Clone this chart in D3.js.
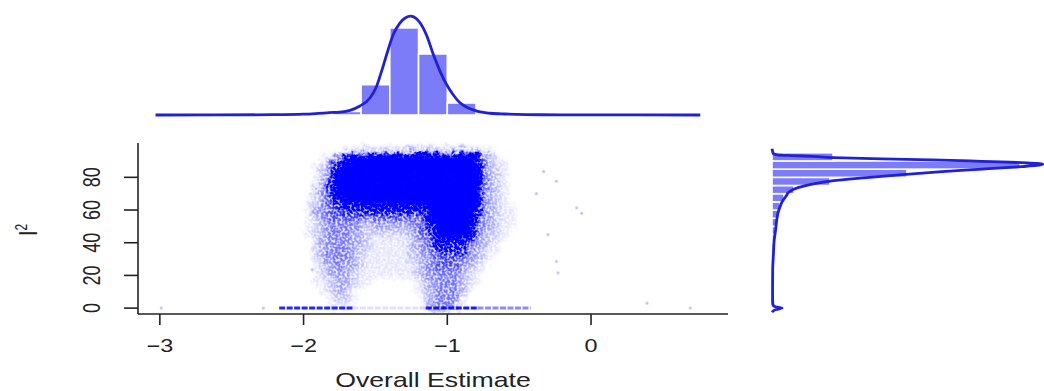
<!DOCTYPE html>
<html><head><meta charset="utf-8">
<script src="https://cdn.jsdelivr.net/npm/d3@7"></script>
<style>body{margin:0;background:#fff;} svg{display:block;font-family:"Liberation Sans",Arial,sans-serif;}</style>
</head><body><svg id="c" width="1044" height="391"></svg>
<script>
// ---------------- data ----------------
const xTicks = [-3, -2, -1, 0];
const yTicks = [0, 20, 40, 60, 80];
const xLabel = "Overall Estimate";

// top marginal histogram of overall estimate: [from, to, density]
const topBins = [[-1.8,-1.6,0.09],[-1.6,-1.4,0.773],[-1.4,-1.2,2.22],[-1.2,-1.0,1.556],[-1.0,-0.8,0.306],[-0.8,-0.6,0.02]];
// top density curve: [estimate, density]
const topDensity = [[-3.03,0],[-2.6,0.002],[-2.2,0.008],[-2.0,0.02],[-1.9,0.04],[-1.82,0.06],[-1.747,0.075],[-1.677,0.12],[-1.608,0.23],[-1.538,0.434],[-1.491,0.74],[-1.457,1.12],[-1.422,1.54],[-1.376,2.05],[-1.329,2.35],[-1.29,2.48],[-1.255,2.52],[-1.22,2.47],[-1.19,2.35],[-1.143,2.02],[-1.097,1.54],[-1.051,1.12],[-1.004,0.77],[-0.958,0.51],[-0.912,0.31],[-0.865,0.2],[-0.819,0.13],[-0.772,0.077],[-0.7,0.045],[-0.6,0.025],[-0.45,0.01],[-0.2,0.004],[0.3,0.001],[0.76,0]];

// right marginal histogram of I2: [from, to, density]
const rightBins = [[0,5,0.0011],[5,10,0.0004],[10,15,0.0004],[15,20,0.0004],[20,25,0.0005],[25,30,0.0005],[30,35,0.0007],[35,40,0.0009],[40,45,0.0011],[45,50,0.0013],[50,55,0.0016],[55,60,0.0021],[60,65,0.0029],[65,70,0.0043],[70,75,0.0079],[75,80,0.0207],[80,85,0.0482],[85,90,0.0886],[90,95,0.0218]];
// right density curve: [I2, density]
const rightDensity = [[-2.5,0],[-1,0.0012],[0,0.0036],[0.8,0.0012],[2,0.0003],[4,0.0002],[10,0.0002],[23.5,0.00025],[33,0.0005],[41.8,0.0008],[48,0.0013],[54.1,0.0017],[58,0.0021],[62.2,0.0029],[65,0.0036],[68.4,0.005],[71.1,0.0061],[73.7,0.0093],[75.8,0.0143],[77.8,0.0214],[79.8,0.0339],[81.8,0.0475],[83.5,0.0607],[85,0.075],[86.6,0.0893],[87.3,0.0946],[88,0.0968],[89,0.0893],[89.8,0.075],[90.7,0.0571],[91.3,0.0393],[92.1,0.0218],[92.8,0.0143],[93.3,0.0071],[93.8,0.0018],[94.5,0.0005],[96,0.0002],[97.5,0]];

// scatter point density, 0 (none) .. 9 (solid)
// columns: 36 estimate bins of 0.05 starting at -2.2; rows: I2 bins of 5, top row = 95-100
const gridXStart = -2.2, gridXStep = 0.05, gridI2Step = 5;
const gridRows = [
  "000000000" + "11" + "22222222222222222" + "11" + "000000",
  "000000" + "1258" + "999999999999999999" + "531" + "00000",
  "00000" + "1258" + "9999999999999999999" + "5321" + "0000",
  "00000" + "136" + "99999999999999999999" + "5321" + "0000",
  "00000" + "136" + "99999999999999999999" + "5321" + "0000",
  "00000" + "247" + "99999999999999999999" + "5321" + "0000",
  "0000" + "12468" + "9999" + "9999999" + "99999999" + "4321" + "0000",
  "0000" + "13456" + "77888888888" + "8" + "9999999" + "43211" + "000",
  "0000" + "134555555" + "55555" + "55" + "6" + "999999" + "8" + "43211" + "000",
  "0000" + "123444432" + "33333" + "34" + "5" + "8" + "99999" + "6" + "43211" + "000",
  "0000" + "123444332" + "22222" + "34" + "5" + "7" + "99999" + "5" + "32210" + "000",
  "00000" + "23444332" + "11111" + "23" + "4" + "6" + "8888" + "6" + "4" + "321" + "00000",
  "00000" + "23444322" + "11111" + "23" + "4" + "5" + "7777" + "5" + "3" + "211" + "00000",
  "00000" + "23444321" + "11111" + "22" + "3" + "4" + "5555" + "4" + "3" + "210" + "00000",
  "00000" + "12343321" + "11111" + "12" + "3" + "4" + "5554" + "3" + "2" + "100" + "00000",
  "00000" + "12333211" + "11111" + "12" + "3" + "4" + "4443" + "2" + "1" + "000" + "00000",
  "00000" + "11233211" + "00000" + "01" + "2" + "3" + "4443" + "2" + "1" + "000" + "00000",
  "00000" + "01232100" + "00000" + "01" + "2" + "3" + "4443" + "1" + "0" + "000" + "00000",
  "00000" + "00122100" + "00000" + "00" + "2" + "3" + "4441" + "0" + "0" + "000" + "00000",
  "00000" + "00111000" + "00000" + "00" + "1" + "3" + "4441" + "0" + "0" + "000" + "00000"
];
// points lying exactly at I2 = 0: [from, to, density level 0..1]
const zeroSegs = [[-2.17,-1.66,0.85],[-1.66,-1.15,0.12],[-1.15,-0.79,0.9],[-0.79,-0.42,0.45]];
// isolated points [estimate, I2]
const outliers = [[-2.99,0],[-2.28,0],[-1.94,23.5],[-0.33,83.5],[-0.24,77.6],[-0.1,61.4],[-0.065,58],[-0.24,28.5],[-0.23,21.6],[0.39,3],[0.69,0],[-0.38,70],[-0.3,45]];

// ---------------- drawing ----------------
const svg = d3.select("#c");
const blue = "#0000ff", lineBlue = "#2020d8", barBlue = "#7c7cf8", ink = "#222";

const x = d3.scaleLinear().domain([-3.152, 0.953]).range([138, 728]);
const y = d3.scaleLinear().domain([-3.6, 101]).range([314, 143]);
const topY = d3.scaleLinear().domain([0, 2.6]).range([115, 13]);
const rightX = d3.scaleLinear().domain([0, 0.1]).range([772, 1052]);
const levelOpacity = [0, 0.04, 0.085, 0.14, 0.2, 0.27, 0.35, 0.45, 0.58, 1];

// filters giving the cells the look of many translucent points
const defs = svg.append("defs");
function rough(id) {
  const f = defs.append("filter").attr("id", id).attr("x","-8%").attr("y","-8%").attr("width","116%").attr("height","116%");
  f.append("feGaussianBlur").attr("in","SourceGraphic").attr("stdDeviation", 2.3).attr("result","b");
  f.append("feTurbulence").attr("type","turbulence").attr("baseFrequency", 0.12).attr("numOctaves", 2).attr("seed", 7).attr("result","t");
  f.append("feDisplacementMap").attr("in","b").attr("in2","t").attr("scale", 10).attr("xChannelSelector","R").attr("yChannelSelector","G").attr("result","d");
  return f;
}
const fs = rough("cloud");
fs.append("feTurbulence").attr("type","fractalNoise").attr("baseFrequency", 0.42).attr("numOctaves", 1).attr("seed", 3).attr("result","n");
fs.append("feColorMatrix").attr("in","n").attr("type","matrix").attr("values","0 0 0 0 1  0 0 0 0 1  0 0 0 0 1  3.5 0 0 0 -1.1").attr("result","nm");
fs.append("feComposite").attr("in","d").attr("in2","nm").attr("operator","arithmetic").attr("k1", 1.3).attr("k2", 0.3).attr("result","m");
fs.append("feComponentTransfer").attr("in","m").append("feFuncA").attr("type","linear").attr("slope", 1.65).attr("intercept", 0);
rough("solid");

// scatter cloud
const cells = [];
gridRows.forEach((row, ri) => {
  const i2hi = 100 - ri * gridI2Step;
  row.split("").forEach((ch, ci) => {
    const lv = +ch;
    if (lv > 0) cells.push({x0: gridXStart + ci*gridXStep, x1: gridXStart + (ci+1)*gridXStep, i0: i2hi - gridI2Step, i1: i2hi, lv});
  });
});
function drawCells(g, data) {
  g.selectAll("rect").data(data).join("rect")
    .attr("x", d => x(d.x0)).attr("width", d => x(d.x1) - x(d.x0) + 0.3)
    .attr("y", d => y(d.i1)).attr("height", d => y(d.i0) - y(d.i1) + 0.3)
    .attr("fill", blue).attr("fill-opacity", d => levelOpacity[d.lv]);
}
drawCells(svg.append("g").attr("filter","url(#cloud)"), cells);
drawCells(svg.append("g").attr("filter","url(#solid)"), cells.filter(d => d.lv === 9));

svg.append("g").selectAll("line").data(zeroSegs).join("line")
  .attr("x1", d => x(d[0])).attr("x2", d => x(d[1]))
  .attr("y1", y(0)).attr("y2", y(0))
  .attr("stroke", blue).attr("stroke-opacity", d => d[2]).attr("stroke-width", 3).attr("stroke-dasharray","6,1.5");

svg.append("g").selectAll("circle").data(outliers).join("circle")
  .attr("cx", d => x(d[0])).attr("cy", d => y(d[1])).attr("r", 1.6)
  .attr("fill", blue).attr("fill-opacity", 0.22);

// axes (R style, bty = "l")
const ax = svg.append("g").attr("stroke", ink).attr("stroke-width", 1.6).attr("fill","none");
ax.append("line").attr("x1", x.range()[0]).attr("x2", x.range()[0]).attr("y1", y.range()[1]).attr("y2", y.range()[0]);
ax.append("line").attr("x1", x.range()[0]).attr("x2", x.range()[1]).attr("y1", y.range()[0]).attr("y2", y.range()[0]);
ax.selectAll(".xt").data(xTicks).join("line").attr("x1", d => x(d)).attr("x2", d => x(d)).attr("y1", y.range()[0]).attr("y2", y.range()[0] + 11);
ax.selectAll(".yt").data(yTicks).join("line").attr("y1", d => y(d)).attr("y2", d => y(d)).attr("x1", x.range()[0]).attr("x2", x.range()[0] - 14);

const fmt = d3.format("d");
const sx = 1.3;
svg.append("g").selectAll("text").data(xTicks).join("text")
  .attr("transform", d => `translate(${x(d)},351.5) scale(${sx},1)`)
  .attr("text-anchor","middle").attr("font-size", 18).attr("fill", ink).text(d => fmt(d));
svg.append("g").selectAll("text").data(yTicks).join("text")
  .attr("transform", d => `translate(100,${y(d)}) scale(${sx},1) rotate(-90)`)
  .attr("text-anchor","middle").attr("font-size", 18).attr("fill", ink).text(d => fmt(d));
svg.append("text").attr("transform", `translate(${(x.range()[0]+x.range()[1])/2},386.5) scale(1.27,1)`)
  .attr("text-anchor","middle").attr("font-size", 21).attr("fill", ink).text(xLabel);
const yl = svg.append("text").attr("transform", `translate(37,230) scale(${sx},1) rotate(-90)`)
  .attr("text-anchor","middle").attr("font-size", 20).attr("fill", ink);
yl.append("tspan").text("I");
yl.append("tspan").attr("font-size", 12).attr("dy", -8).text("2");

// top marginal
svg.append("g").selectAll("rect").data(topBins).join("rect")
  .attr("x", d => x(d[0])).attr("width", d => x(d[1]) - x(d[0]))
  .attr("y", d => topY(d[2])).attr("height", d => topY(0) - topY(d[2]))
  .attr("fill", barBlue).attr("stroke", "#fff").attr("stroke-width", 1.6);
svg.append("path").datum(topDensity)
  .attr("d", d3.line().x(d => x(d[0])).y(d => topY(d[1])).curve(d3.curveMonotoneX))
  .attr("fill","none").attr("stroke", lineBlue).attr("stroke-width", 2.8);

// right marginal
svg.append("g").selectAll("rect").data(rightBins).join("rect")
  .attr("x", rightX(0)).attr("width", d => rightX(d[2]) - rightX(0))
  .attr("y", d => y(d[1])).attr("height", d => y(d[0]) - y(d[1]))
  .attr("fill", barBlue).attr("stroke", "#fff").attr("stroke-width", 1.6);
svg.append("path").datum(rightDensity)
  .attr("d", d3.line().x(d => rightX(d[1])).y(d => y(d[0])).curve(d3.curveMonotoneY))
  .attr("fill","none").attr("stroke", lineBlue).attr("stroke-width", 2.8);
</script></body></html>
